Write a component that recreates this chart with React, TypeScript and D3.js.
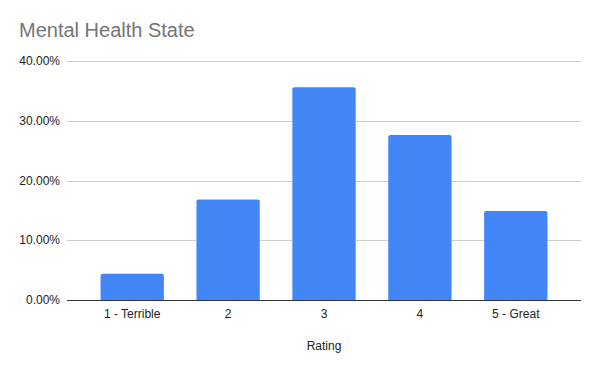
import React, { useEffect, useRef } from 'react';
import * as d3 from 'd3';

// ratings and share of responses (percent)
const ratings = ['1 - Terrible', '2', '3', '4', '5 - Great'];
const shares = [4.4, 16.8, 35.6, 27.6, 14.9];
const yTicks = [0, 10, 20, 30, 40];

const App = () => {
  const svgRef = useRef<SVGSVGElement>(null);

  useEffect(() => {
    const width = 600;
    const height = 371;
    const left = 67;
    const right = 581;
    const top = 61;
    const bottom = 300;

    const svg = d3.select(svgRef.current);
    svg.selectAll('*').remove();
    svg.attr('width', width).attr('height', height);

    svg.append('rect').attr('width', width).attr('height', height).attr('fill', '#fff');

    const data = ratings.map((r, i) => ({ rating: r, share: shares[i] }));

    const x = d3.scaleBand()
      .domain(ratings)
      .range([left, right])
      .paddingInner(0.34)
      .paddingOuter(0.35);

    const y = d3.scaleLinear().domain([0, 40]).range([bottom, top]);

    // title
    svg.append('text')
      .attr('x', 19)
      .attr('y', 37)
      .attr('font-family', '"Liberation Sans", Arial, sans-serif')
      .attr('font-size', 20)
      .attr('fill', '#757575')
      .text('Mental Health State');

    // gridlines
    svg.append('g')
      .selectAll('line')
      .data(yTicks.filter(t => t > 0))
      .enter()
      .append('line')
      .attr('x1', left)
      .attr('x2', right)
      .attr('y1', d => Math.round(y(d)) + 0.5)
      .attr('y2', d => Math.round(y(d)) + 0.5)
      .attr('stroke', '#cccccc');

    // y labels
    svg.append('g')
      .selectAll('text')
      .data(yTicks)
      .enter()
      .append('text')
      .attr('x', 60)
      .attr('y', d => y(d) + 4)
      .attr('text-anchor', 'end')
      .attr('font-family', '"Liberation Sans", Arial, sans-serif')
      .attr('font-size', 12)
      .attr('fill', '#222')
      .text(d => d3.format('.2f')(d) + '%');

    // bars with rounded top corners
    const r = 2;
    svg.append('g')
      .selectAll('path')
      .data(data)
      .enter()
      .append('path')
      .attr('fill', '#4285f4')
      .attr('d', d => {
        const x0 = x(d.rating)!;
        const w = x.bandwidth();
        const y0 = y(d.share);
        return `M${x0},${bottom}V${y0 + r}Q${x0},${y0} ${x0 + r},${y0}H${x0 + w - r}Q${x0 + w},${y0} ${x0 + w},${y0 + r}V${bottom}Z`;
      });

    // baseline
    svg.append('line')
      .attr('x1', left)
      .attr('x2', right)
      .attr('y1', bottom + 0.5)
      .attr('y2', bottom + 0.5)
      .attr('stroke', '#333');

    // x labels
    svg.append('g')
      .selectAll('text')
      .data(ratings)
      .enter()
      .append('text')
      .attr('x', d => x(d)! + x.bandwidth() / 2)
      .attr('y', 318)
      .attr('text-anchor', 'middle')
      .attr('font-family', '"Liberation Sans", Arial, sans-serif')
      .attr('font-size', 12)
      .attr('fill', '#222')
      .text(d => d);

    // x axis title
    svg.append('text')
      .attr('x', (left + right) / 2)
      .attr('y', 350)
      .attr('text-anchor', 'middle')
      .attr('font-family', '"Liberation Sans", Arial, sans-serif')
      .attr('font-size', 12)
      .attr('fill', '#222')
      .text('Rating');
  }, []);

  return (
    <div style={{ margin: -8 }}>
      <svg ref={svgRef} style={{ display: 'block' }}></svg>
    </div>
  );
};

export default App;
